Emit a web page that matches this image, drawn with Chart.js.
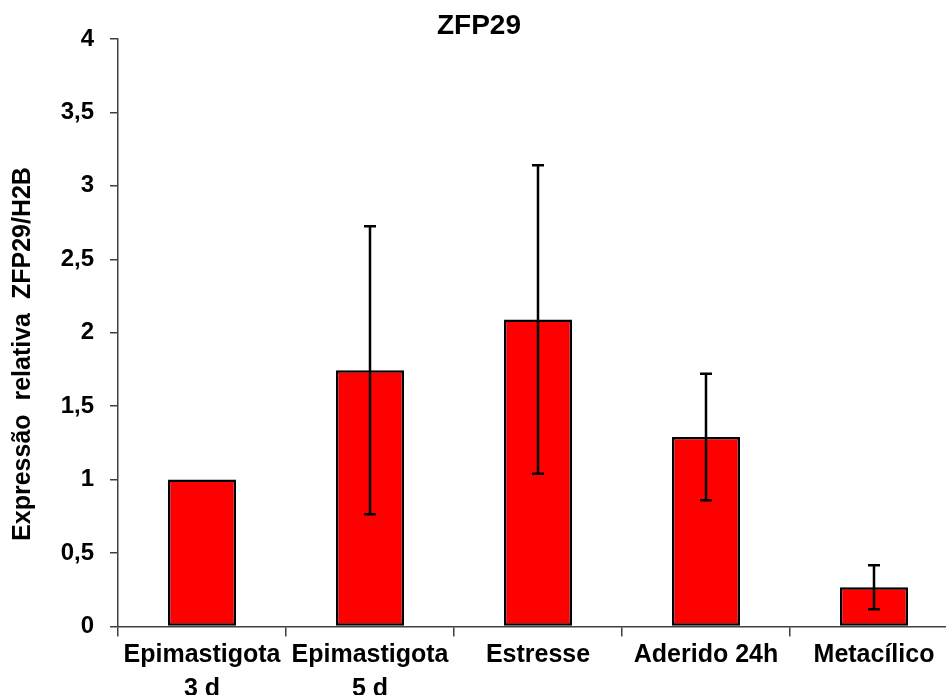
<!DOCTYPE html>
<html lang="pt">
<head>
<meta charset="utf-8">
<title>ZFP29</title>
<script src="https://cdn.jsdelivr.net/npm/chart.js@4.4.1/dist/chart.umd.min.js"></script>
<style>
  html, body { margin: 0; padding: 0; background: #fff; overflow: hidden; }
  #wrap { position: relative; width: 980px; height: 695px; }
</style>
</head>
<body>
<div id="wrap"><canvas id="chart"></canvas></div>
<script>
// expressão relativa ZFP29/H2B por fase
var categories = [['Epimastigota', '3 d'], ['Epimastigota', '5 d'], 'Estresse', 'Aderido 24h', 'Metacílico'];
var means = [1.0, 1.745, 2.09, 1.29, 0.267];
var errors = [0, 0.98, 1.05, 0.43, 0.15];
var yMin = 0, yMax = 4, yStep = 0.5;

var FONT = "'Liberation Sans', Arial, sans-serif";

// barras de erro simétricas (média ± erro)
var errorBars = {
  id: 'errorBars',
  afterDatasetsDraw: function (chart) {
    var ctx = chart.ctx;
    var y = chart.scales.y;
    var meta = chart.getDatasetMeta(0);
    ctx.save();
    ctx.strokeStyle = '#000';
    ctx.lineWidth = 2.5;
    meta.data.forEach(function (bar, i) {
      var e = errors[i];
      if (!e) return;
      var top = y.getPixelForValue(means[i] + e);
      var bot = y.getPixelForValue(means[i] - e);
      ctx.beginPath();
      ctx.moveTo(bar.x, top);
      ctx.lineTo(bar.x, bot);
      ctx.moveTo(bar.x - 6, top);
      ctx.lineTo(bar.x + 6, top);
      ctx.moveTo(bar.x - 6, bot);
      ctx.lineTo(bar.x + 6, bot);
      ctx.stroke();
    });
    ctx.restore();
  }
};

// título do eixo Y, desenhado à mão para ficar na posição certa
var yTitle = {
  id: 'yTitle',
  afterDraw: function (chart) {
    var ctx = chart.ctx;
    ctx.save();
    ctx.translate(23, 354);
    ctx.rotate(-Math.PI / 2);
    ctx.font = 'bold 25px ' + FONT;
    ctx.fillStyle = '#000';
    ctx.textAlign = 'center';
    ctx.textBaseline = 'middle';
    ctx.fillText('Expressão  relativa  ZFP29/H2B', 0, 0);
    ctx.restore();
  }
};

new Chart(document.getElementById('chart'), {
  type: 'bar',
  data: {
    labels: categories,
    datasets: [{
      data: means,
      backgroundColor: '#ff0000',
      borderColor: '#000',
      borderWidth: 2.5,
      borderSkipped: false,
      barPercentage: 0.405,
      categoryPercentage: 1.0
    }]
  },
  options: {
    responsive: true,
    maintainAspectRatio: false,
    animation: false,
    layout: { padding: { left: 0, right: 22, top: 0, bottom: 0 } },
    plugins: {
      legend: { display: false },
      tooltip: { enabled: false },
      title: {
        display: true,
        text: 'ZFP29',
        color: '#000',
        font: { family: FONT, size: 28, weight: 'bold', lineHeight: 0.89 },
        padding: { top: 14, bottom: 0 }
      }
    },
    scales: {
      x: {
        grid: { display: true, drawOnChartArea: false, drawTicks: true, tickLength: 10, color: '#404040', lineWidth: 1.5, offset: true },
        border: { display: true, color: '#404040', width: 1.5 },
        ticks: {
          color: '#000',
          padding: 2,
          maxRotation: 0,
          autoSkip: false,
          font: { family: FONT, size: 25, weight: 'bold', lineHeight: 1.35 }
        },
        afterFit: function (scale) { scale.height = 68.5; }
      },
      y: {
        min: yMin,
        max: yMax,
        grid: { display: true, drawOnChartArea: false, drawTicks: true, tickLength: 8, color: '#404040', lineWidth: 1.5 },
        border: { display: true, color: '#404040', width: 1.5 },
        ticks: {
          stepSize: yStep,
          color: '#000',
          padding: 16,
          font: { family: FONT, size: 24, weight: 'bold' },
          callback: function (v) { return String(v).replace('.', ','); }
        },
        afterFit: function (scale) { scale.width = 118; }
      }
    }
  },
  plugins: [errorBars, yTitle]
});
</script>
</body>
</html>
